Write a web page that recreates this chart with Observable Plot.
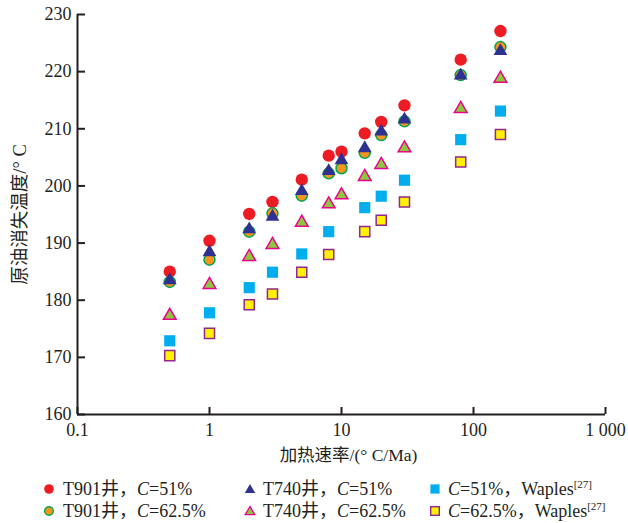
<!DOCTYPE html>
<html><head><meta charset="utf-8">
<script src="https://cdn.jsdelivr.net/npm/d3@7"></script>
<script src="https://cdn.jsdelivr.net/npm/@observablehq/plot@0.6"></script>
<style>
body{margin:0;background:#fff;}
#wrap{position:relative;width:628px;height:523px;font-family:"Liberation Serif","Noto Sans CJK SC",serif;color:#231f20;background:#fff;}
.item{position:absolute;font-size:18px;white-space:nowrap;line-height:20px;height:20px;}
.item i{font-style:italic;}
.item sup{font-size:11px;vertical-align:7px;line-height:0;}
.sym{position:absolute;}
</style></head><body><div id="wrap"></div>
<script>
// heating rates (°C/Ma)
const rates = [0.5, 1, 2, 3, 5, 8, 10, 15, 20, 30, 80, 160];
const ratesWaples = [0.5, 1, 2, 3, 5, 8, 15, 20, 30, 80, 160];
// oil cracking (disappearance) temperature, °C
const t901C51 = [185.0, 190.4, 195.1, 197.2, 201.1, 205.3, 206.0, 209.2, 211.2, 214.1, 222.1, 227.1];
const t901C625 = [183.2, 187.1, 192.0, 195.2, 198.3, 202.2, 203.1, 205.8, 208.9, 211.3, 219.4, 224.3];
const t740C51 = [183.5, 188.4, 192.4, 194.6, 199.1, 202.6, 204.5, 206.6, 209.5, 211.6, 219.3, 223.6];
const t740C625 = [177.3, 182.7, 187.6, 189.7, 193.6, 196.8, 198.4, 201.6, 203.7, 206.6, 213.5, 218.8];
const waplesC51 = [172.9, 177.8, 182.2, 184.9, 188.1, 192.0, 196.2, 198.2, 201.0, 208.1, 213.1];
const waplesC625 = [170.3, 174.2, 179.2, 181.1, 184.9, 188.0, 192.0, 194.0, 197.2, 204.2, 209.0];
// axes
const xTicks = [0.1, 1, 10, 100, 1000];
const xTickLabels = ["0.1", "1", "10", "100", "1 000"];
const yTicks = [160, 170, 180, 190, 200, 210, 220, 230];
const xLabel = "加热速率/(° C/Ma)";
const yLabel = "原油消失温度/° C";
const legendLabels = [
  "T901井，<i>C</i>=51%",
  "T901井，<i>C</i>=62.5%",
  "T740井，<i>C</i>=51%",
  "T740井，<i>C</i>=62.5%",
  "<i>C</i>=51%，Waples<sup>[27]</sup>",
  "<i>C</i>=62.5%，Waples<sup>[27]</sup>"
];

const rows = (xs, ys) => xs.map((x, i) => ({x, y: ys[i]}));
const ink = "#231f20";
const styles = [
  {symbol: "circle", r: 6.2, fill: "#ed1c24"},
  {symbol: "circle", r: 5.5, fill: "#f7941d", stroke: "#00a651", strokeWidth: 1.5},
  {symbol: "triangle", r: 5.1, fill: "#2e3192"},
  {symbol: "triangle", r: 4.7, fill: "#8dc63f", stroke: "#ec008c", strokeWidth: 1.5},
  {symbol: "square", r: 6.3, fill: "#00aeef"},
  {symbol: "square", r: 5.7, fill: "#fff200", stroke: "#92278f", strokeWidth: 1.5}
];
const series = [
  rows(rates, t901C51), rows(rates, t901C625), rows(rates, t740C51),
  rows(rates, t740C625), rows(ratesWaples, waplesC51), rows(ratesWaples, waplesC625)
];

const chart = Plot.plot({
  width: 628, height: 468,
  marginTop: 14, marginRight: 23, marginBottom: 54, marginLeft: 77,
  style: {fontFamily: '"Liberation Serif","Noto Sans CJK SC",serif', fontSize: "18px", color: ink, background: "white"},
  x: {type: "log", domain: [0.1, 1000]},
  y: {domain: [160, 230]},
  marks: [
    Plot.ruleX([0.1], {stroke: ink, strokeWidth: 2}),
    Plot.ruleY([160], {stroke: ink, strokeWidth: 2}),
    Plot.axisX({ticks: xTicks, tickSize: -7, tickPadding: 16, tickFormat: d => xTickLabels[xTicks.indexOf(d)], label: null, color: ink, strokeWidth: 2, fontSize: 18}),
    Plot.axisY({ticks: yTicks, tickSize: -8, tickPadding: 14, label: null, color: ink, strokeWidth: 2, fontSize: 18}),
    Plot.text([xLabel], {frameAnchor: "bottom", lineAnchor: "middle", textAnchor: "middle", dy: 41, dx: 7, fontSize: 17.5, fill: ink}),
    Plot.text([yLabel], {frameAnchor: "left", textAnchor: "middle", lineAnchor: "middle", rotate: -90, dx: -57, fontSize: 18.5, fill: ink}),
    ...series.map((data, i) => Plot.dot(data, {x: "x", y: "y", ...styles[i]}))
  ]
});
const wrap = document.getElementById("wrap");
wrap.appendChild(chart);

// legend (two rows, three columns)
const legendPos = [
  {mx: 49, tx: 63, y: 489}, {mx: 49, tx: 63, y: 511},
  {mx: 250, tx: 263, y: 489}, {mx: 250, tx: 263, y: 511},
  {mx: 435, tx: 448, y: 489}, {mx: 435, tx: 448, y: 511}
];
const legendSym = [
  '<circle cx="7" cy="7" r="4.8" fill="#ed1c24"/>',
  '<circle cx="7" cy="7" r="4.3" fill="#f7941d" stroke="#00a651" stroke-width="1.4"/>',
  '<path d="M7,2L12.2,11L1.8,11Z" fill="#2e3192"/>',
  '<path d="M7,2.5L11.8,10.6L2.2,10.6Z" fill="#8dc63f" stroke="#ec008c" stroke-width="1.3"/>',
  '<rect x="2.4" y="2.4" width="9.2" height="9.2" fill="#00aeef"/>',
  '<rect x="2.7" y="2.7" width="8.6" height="8.6" fill="#fff200" stroke="#92278f" stroke-width="1.4"/>'
];
legendLabels.forEach((lab, i) => {
  const p = legendPos[i];
  const s = document.createElement("div");
  s.className = "sym";
  s.style.left = (p.mx - 7) + "px"; s.style.top = (p.y - 7) + "px";
  s.innerHTML = `<svg width="14" height="14">${legendSym[i]}</svg>`;
  wrap.appendChild(s);
  const t = document.createElement("div");
  t.className = "item";
  t.style.left = p.tx + "px"; t.style.top = (p.y - 10) + "px";
  t.innerHTML = lab;
  wrap.appendChild(t);
});
</script></body></html>
